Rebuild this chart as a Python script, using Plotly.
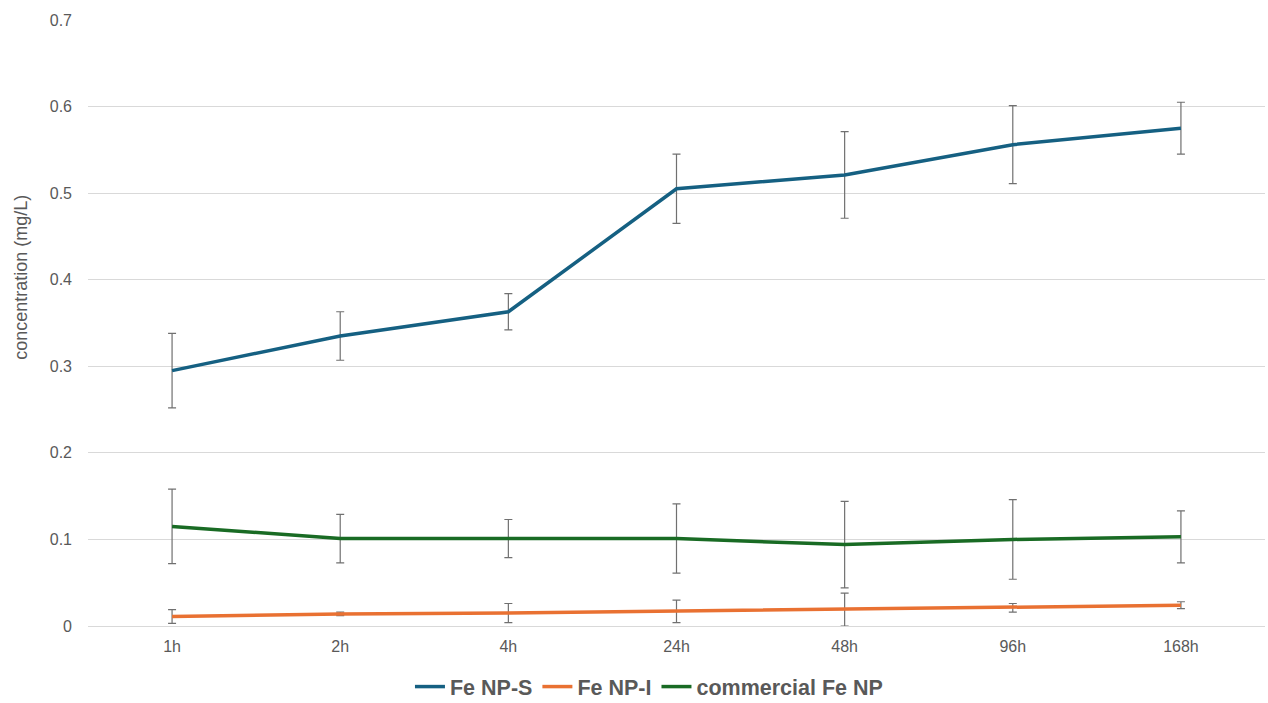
import plotly.graph_objects as go

categories = ["1h", "2h", "4h", "24h", "48h", "96h", "168h"]

fe_np_s = [0.295, 0.335, 0.363, 0.505, 0.521, 0.556, 0.575]
fe_np_s_err = [0.043, 0.028, 0.021, 0.040, 0.050, 0.045, 0.030]

fe_np_i = [0.011, 0.014, 0.015, 0.017, 0.019, 0.021, 0.024]
fe_np_i_err = [0.008, 0.002, 0.011, 0.013, 0.019, 0.005, 0.004]

commercial = [0.115, 0.101, 0.101, 0.101, 0.094, 0.100, 0.103]
commercial_err = [0.043, 0.028, 0.022, 0.040, 0.050, 0.046, 0.030]

series = [
    ("Fe NP-S", fe_np_s, fe_np_s_err, "#156082"),
    ("Fe NP-I", fe_np_i, fe_np_i_err, "#E97132"),
    ("commercial Fe NP", commercial, commercial_err, "#196B24"),
]

FONT = "Liberation Sans, Arial, sans-serif"

fig = go.Figure()
for name, vals, errs, color in series:
    fig.add_trace(go.Scatter(
        x=categories, y=vals, name=name, mode="lines",
        line=dict(color=color, width=3.5),
        error_y=dict(type="data", array=errs, visible=True,
                     color="#707070", thickness=1.2, width=4),
    ))

fig.add_annotation(
    text="concentration (mg/L)", textangle=-90,
    xref="paper", yref="paper", x=-0.057, y=0.576,
    xanchor="center", yanchor="middle", showarrow=False,
    font=dict(size=18, color="#595959", family=FONT),
)

fig.update_layout(
    width=1268, height=703,
    margin=dict(l=88, r=3, t=20, b=77, autoexpand=False),
    paper_bgcolor="white", plot_bgcolor="white",
    font=dict(family=FONT, size=16, color="#595959"),
    showlegend=True,
    legend=dict(orientation="h", x=0.4766, xanchor="center", y=-0.1, yanchor="middle",
                font=dict(size=21.5, color="#595959", family=FONT, weight="bold"),
                itemwidth=30, traceorder="normal"),
    xaxis=dict(type="category", range=[-0.5, 6.5], showgrid=False, showline=False, zeroline=False,
               ticks="", tickfont=dict(size=16, color="#595959"), ticklabelstandoff=9),
    yaxis=dict(range=[0, 0.7], dtick=0.1, tickformat="~g", showgrid=True,
               gridcolor="#d9d9d9", gridwidth=1, zeroline=True, zerolinecolor="#d9d9d9",
               zerolinewidth=1, showline=False, ticks="",
               tickfont=dict(size=16, color="#595959"), ticklabelstandoff=15),
)

fig.write_html("out.html")
